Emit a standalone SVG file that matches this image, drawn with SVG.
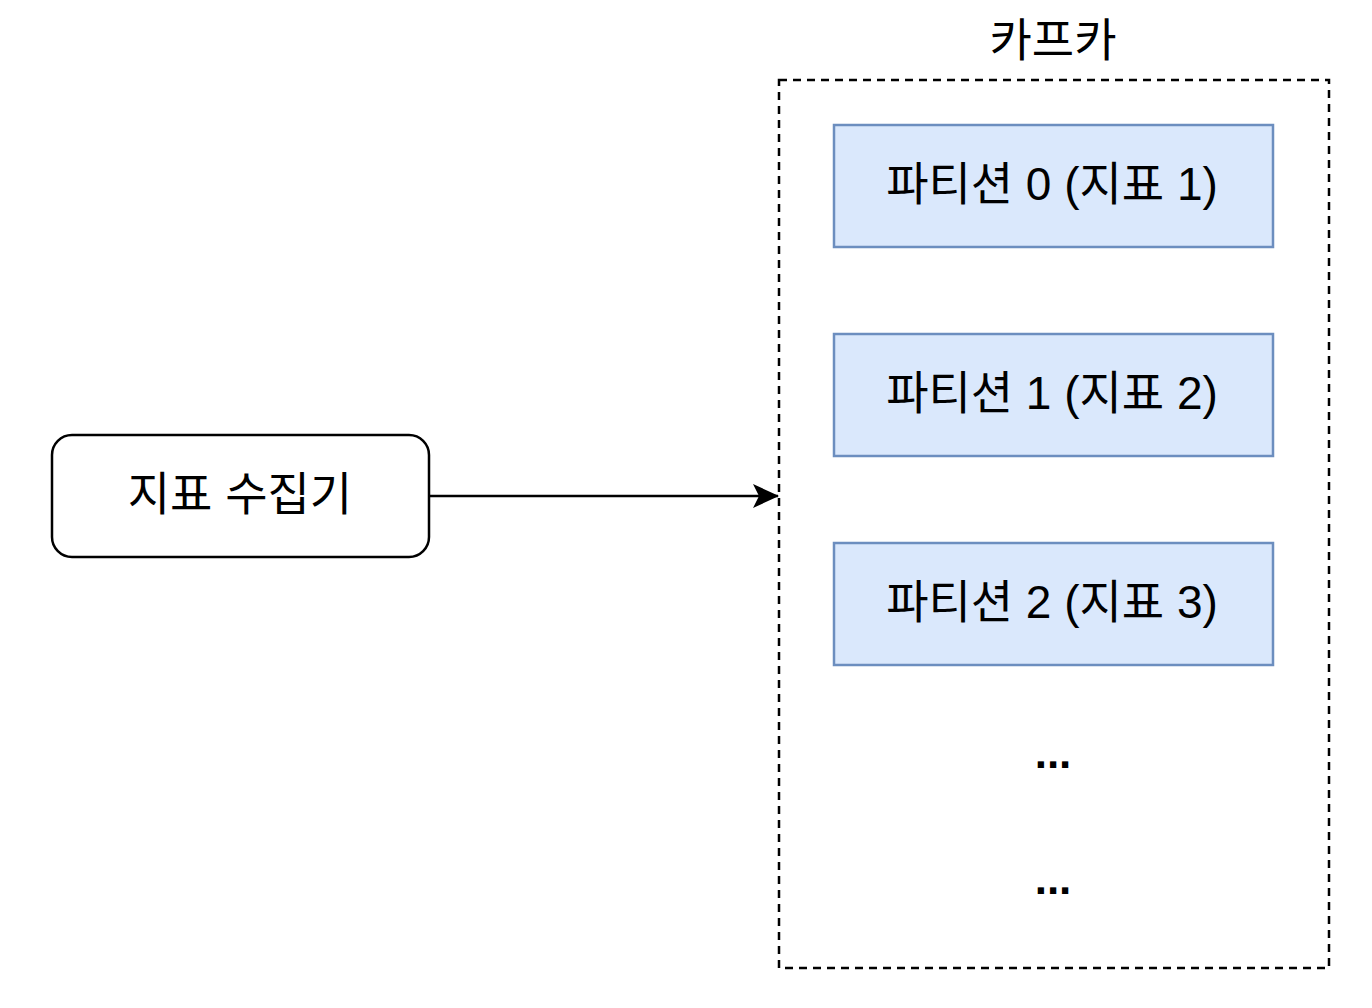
<svg xmlns="http://www.w3.org/2000/svg" width="1372" height="1008" viewBox="0 0 1372 1008">
<defs>
<style>
text{font-family:"Liberation Sans","Noto Sans CJK KR",sans-serif;font-size:46px;fill:#000;text-anchor:middle;dominant-baseline:central}
.dots{font-weight:bold;font-size:44px}
.part{fill:#dae8fc;stroke:#6c8ebf;stroke-width:2.5}
</style>
<marker id="arr" markerWidth="26" markerHeight="24" refX="25" refY="12" orient="auto" markerUnits="userSpaceOnUse" viewBox="0 0 26 24">
<path d="M0,0 L26,12 L0,24 L6,12 Z" fill="#000"/>
</marker>
</defs>
<rect width="1372" height="1008" fill="#fff"/>
<g id="kafka">
<rect x="779" y="80" width="550" height="888" fill="none" stroke="#000" stroke-width="2.5" stroke-dasharray="8,6"/>
<text x="1053" y="40">카프카</text>
</g>
<g id="collector">
<rect x="52" y="435" width="377" height="122" rx="20" fill="#fff" stroke="#000" stroke-width="2.5"/>
<text x="240" y="494">지표 수집기</text>
</g>
<g id="p0">
<rect class="part" x="834" y="125" width="439" height="122"/>
<text x="1052" y="184">파티션 0 (지표 1)</text>
</g>
<g id="p1">
<rect class="part" x="834" y="334" width="439" height="122"/>
<text x="1052" y="393">파티션 1 (지표 2)</text>
</g>
<g id="p2">
<rect class="part" x="834" y="543" width="439" height="122"/>
<text x="1052" y="602">파티션 2 (지표 3)</text>
</g>
<g id="dots1"><text class="dots" x="1053" y="752">...</text></g>
<g id="dots2"><text class="dots" x="1053" y="878">...</text></g>
<g id="connectors">
<line x1="429" y1="496" x2="778" y2="496" stroke="#000" stroke-width="2.5" marker-end="url(#arr)"/>
</g>
</svg>
